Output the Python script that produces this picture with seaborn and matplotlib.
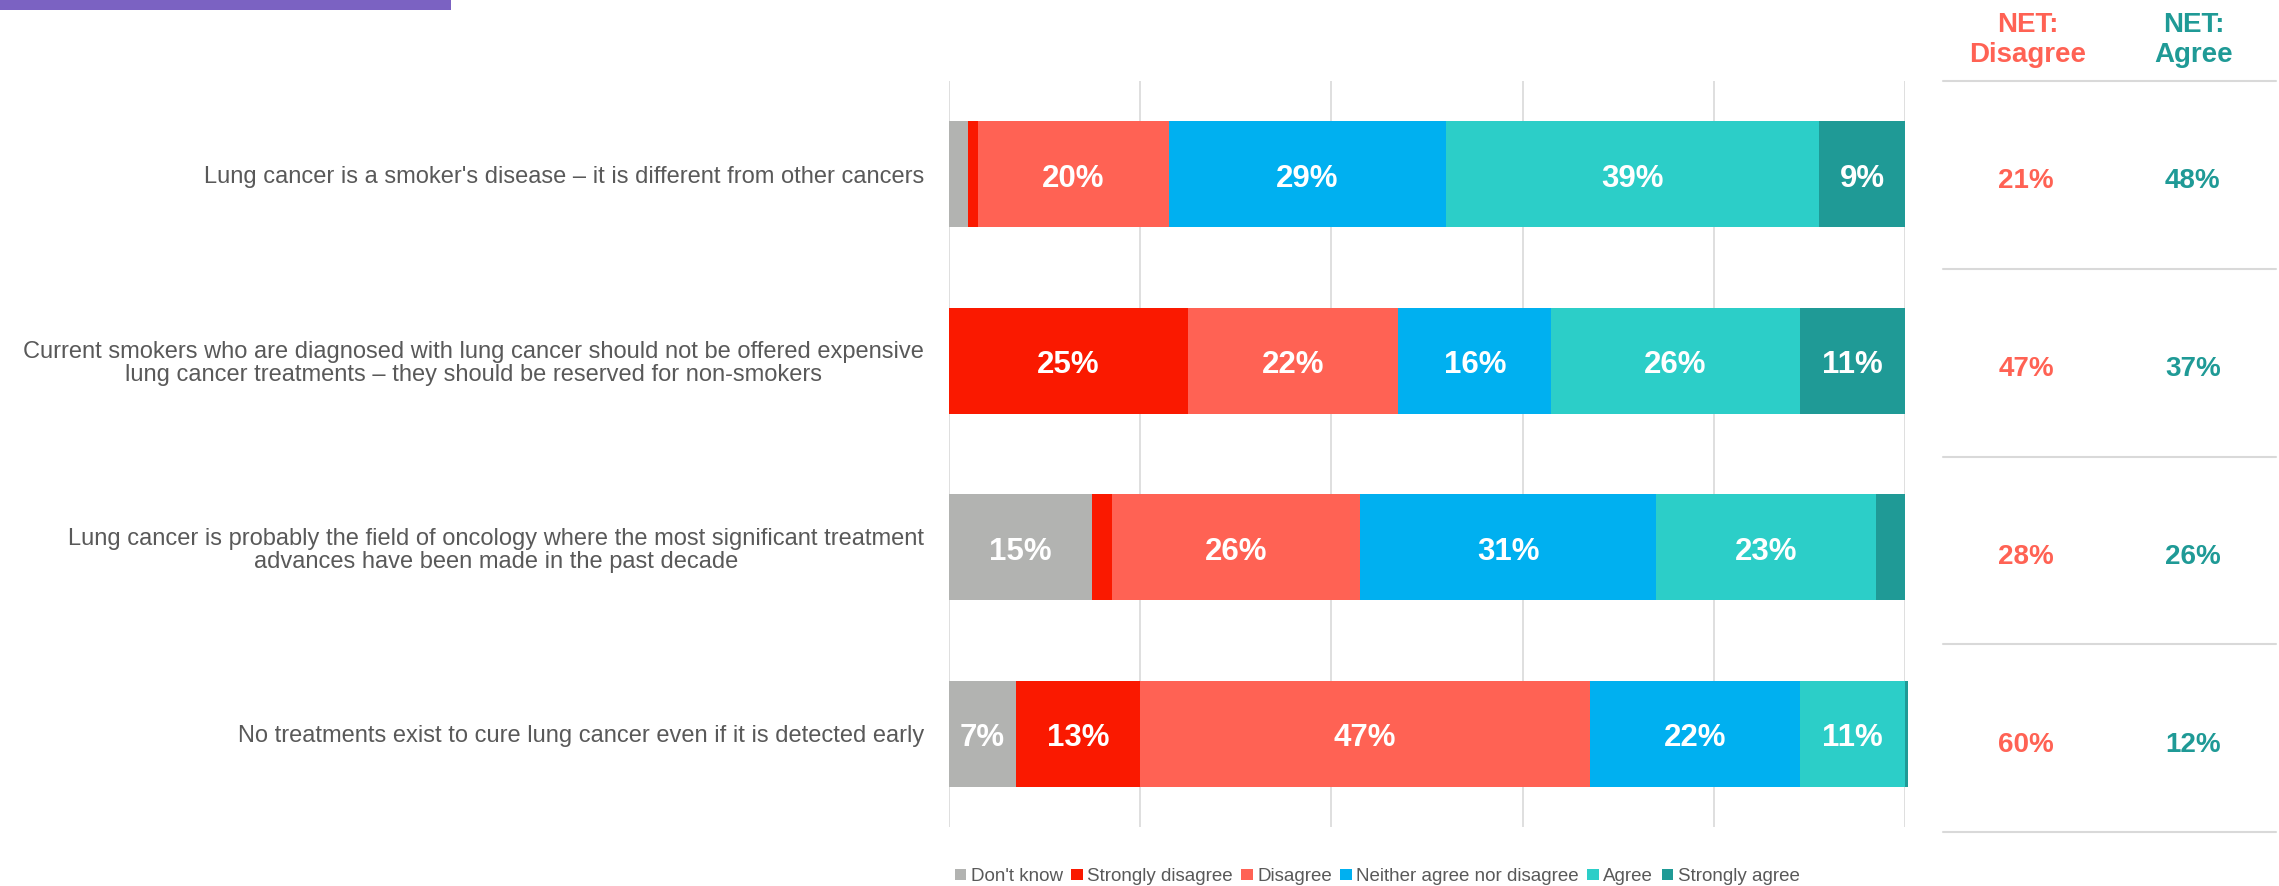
import numpy as np
import pandas as pd
import matplotlib
matplotlib.use("Agg")
import matplotlib.pyplot as plt
from matplotlib.patches import Patch, Rectangle
import seaborn as sns

# ---- data -------------------------------------------------------------
statements = [
    "Lung cancer is a smoker's disease – it is different from other cancers",
    "Current smokers who are diagnosed with lung cancer should not be offered expensive\n"
    "lung cancer treatments – they should be reserved for non-smokers",
    "Lung cancer is probably the field of oncology where the most significant treatment\n"
    "advances have been made in the past decade",
    "No treatments exist to cure lung cancer even if it is detected early",
]
responses = ["Don't know", "Strongly disagree", "Disagree",
             "Neither agree nor disagree", "Agree", "Strongly agree"]

dont_know = [2, 0, 15, 7]
strongly_disagree = [1, 25, 2, 13]
disagree = [20, 22, 26, 47]
neither = [29, 16, 31, 22]
agree = [39, 26, 23, 11]
strongly_agree = [9, 11, 3, 0.3]

net_disagree = [21, 47, 28, 60]
net_agree = [48, 37, 26, 12]

colors = ["#B2B3B1", "#FA1900", "#FF6254", "#00B0F0", "#2CCEC8", "#1F9A96"]
NET_RED = "#FF6254"
NET_TEAL = "#1F9A96"
TEXT_GREY = "#595959"
RULE_GREY = "#D9D9D9"

# ---- tidy frame with cumulative positions ------------------------------
series = [dont_know, strongly_disagree, disagree, neither, agree, strongly_agree]
rows = []
for r, vals in zip(responses, series):
    for s, v in zip(statements, vals):
        rows.append({"statement": s, "response": r, "value": v})
df = pd.DataFrame(rows)
df["response"] = pd.Categorical(df["response"], responses, ordered=True)
df["statement"] = pd.Categorical(df["statement"], statements, ordered=True)
df = df.sort_values(["statement", "response"])
df["end"] = df.groupby("statement", observed=True)["value"].cumsum()
df["start"] = df["end"] - df["value"]

# ---- figure ------------------------------------------------------------
sns.set_theme(style="white")
plt.rcParams["font.family"] = ["Liberation Sans", "DejaVu Sans"]

W, H = 2279, 886
fig = plt.figure(figsize=(W / 100, H / 100), dpi=100)
ax = fig.add_axes([949 / W, 1 - 827 / H, 956 / W, 746 / H])

# stacked bars: draw cumulative totals from the right-most segment inwards
for k in reversed(range(len(responses))):
    sub = df[df["response"] == responses[k]]
    sns.barplot(data=sub, x="end", y="statement", order=statements,
                orient="h", color=colors[k], saturation=1, width=0.57,
                linewidth=0, errorbar=None, ax=ax)
for p in ax.patches:
    p.set_clip_on(False)

ax.set_xlim(0, 100)
ax.set_ylim(3.5, -0.5)
ax.set_xticks(np.arange(0, 101, 20))
ax.set_xticklabels([])
ax.xaxis.grid(True, color=RULE_GREY, linewidth=1.2)
ax.set_axisbelow(True)
ax.set_xlabel("")
ax.set_ylabel("")
for sp in ax.spines.values():
    sp.set_visible(False)
ax.tick_params(axis="x", length=0)
ax.tick_params(axis="y", length=0, pad=18)
ax.set_yticks(range(len(statements)))
ax.set_yticklabels(statements, fontsize=17, color=TEXT_GREY)
for t in ax.get_yticklabels():
    t.set_multialignment("center")
    t.set_linespacing(1.05)

# segment labels
for _, row in df.iterrows():
    if row["value"] >= 5:
        i = statements.index(row["statement"])
        ax.text(row["start"] + row["value"] / 2, i + 0.025, f"{row['value']:g}%",
                ha="center", va="center", color="white",
                fontsize=22.5, fontweight="bold")

# ---- NET table ---------------------------------------------------------
axt = fig.add_axes([1943 / W, 1 - 832 / H, (2276 - 1943) / W, (832 - 81) / H])
axt.set_xlim(0, 2)
axt.set_ylim(3.5, -0.5)
axt.axis("off")
for yb in np.arange(-0.5, 4, 1):
    axt.axhline(yb, color=RULE_GREY, linewidth=1.5, clip_on=False)
for i, (d, a) in enumerate(zip(net_disagree, net_agree)):
    axt.text(0.5, i + 0.035, f"{d}%", ha="center", va="center", color=NET_RED,
             fontsize=20, fontweight="bold")
    axt.text(1.5, i + 0.035, f"{a}%", ha="center", va="center", color=NET_TEAL,
             fontsize=20, fontweight="bold")

fig.text(2028 / W, 1 - 40 / H, "NET:\nDisagree", ha="center", va="center",
         color=NET_RED, fontsize=20, fontweight="bold", linespacing=1.15)
fig.text(2194 / W, 1 - 40 / H, "NET:\nAgree", ha="center", va="center",
         color=NET_TEAL, fontsize=20, fontweight="bold", linespacing=1.15)

# accent strip
fig.add_artist(Rectangle((0, 1 - 10 / H), 451 / W, 10 / H,
                         transform=fig.transFigure, color="#7B62C2", lw=0))

# ---- legend ------------------------------------------------------------
handles = [Patch(facecolor=c, edgecolor="none") for c in colors]
leg = fig.legend(handles, responses, loc="lower left",
                 bbox_to_anchor=(938 / W, -0.018), ncol=6, frameon=False,
                 fontsize=13.5, handlelength=0.6, handleheight=0.6,
                 handletextpad=0.25, columnspacing=0.45)
for t in leg.get_texts():
    t.set_color(TEXT_GREY)

fig.savefig("out.png", dpi=100)
